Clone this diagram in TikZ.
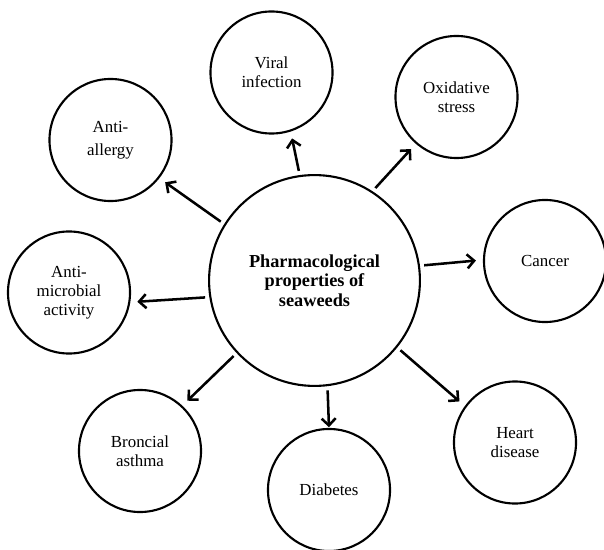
\documentclass[tikz,border=0pt]{standalone}
\usepackage{fontspec}
\setmainfont{Liberation Serif}
\usetikzlibrary{arrows.meta}
\tikzstyle{prop}=[circle,draw,line width=1.5pt,minimum size=3.05cm,inner sep=1pt,align=center,font=\fontsize{12}{13.5}\selectfont]
\tikzstyle{hub}=[prop,minimum size=5.27cm,font=\fontsize{13}{14}\selectfont\bfseries]
\tikzstyle{arr}=[line width=1.8pt,-{Straight Barb[length=5pt,width=10pt]},shorten <=3pt,shorten >=5pt]
\newcommand{\link}[3][]{
  \draw[arr,#1] (#2) -- (#3);
}

\begin{document}
\begin{tikzpicture}[x=0.025cm,y=-0.025cm]
\useasboundingbox (0,0) rectangle (604,550);

\node[hub] (pharma) at (314.5,280.5) {Pharmacological\\properties of\\seaweeds};

\node[prop] (viral) at (271.5,72.5) {Viral\\infection};
\node[prop] (oxid) at (456.5,97) {Oxidative\\stress};
\node[prop] (allergy) at (110.5,140) {Anti-\\[3pt]allergy};
\node[prop] (cancer) at (545,261) {Cancer};
\node[prop] (microb) at (69,292.5) {Anti-\\microbial\\activity};
\node[prop] (asthma) at (140,451) {Broncial\\asthma};
\node[prop] (diab) at (329,490) {Diabetes};
\node[prop] (heart) at (515,442.5) {Heart\\disease};

%\link{pharma}{viral}
\link{pharma.98}{viral.-72}
\link{pharma.57}{oxid.229}
\link{pharma.148}{allergy.-38}
\link{pharma.8}{cancer.179}
\link{pharma.189}{microb.-9}
\link{pharma.223}{asthma.47}
\link[shorten >=0.5pt]{pharma.-83}{diab.90}
\link{pharma.-39}{heart.144}

\end{tikzpicture}
\end{document}
